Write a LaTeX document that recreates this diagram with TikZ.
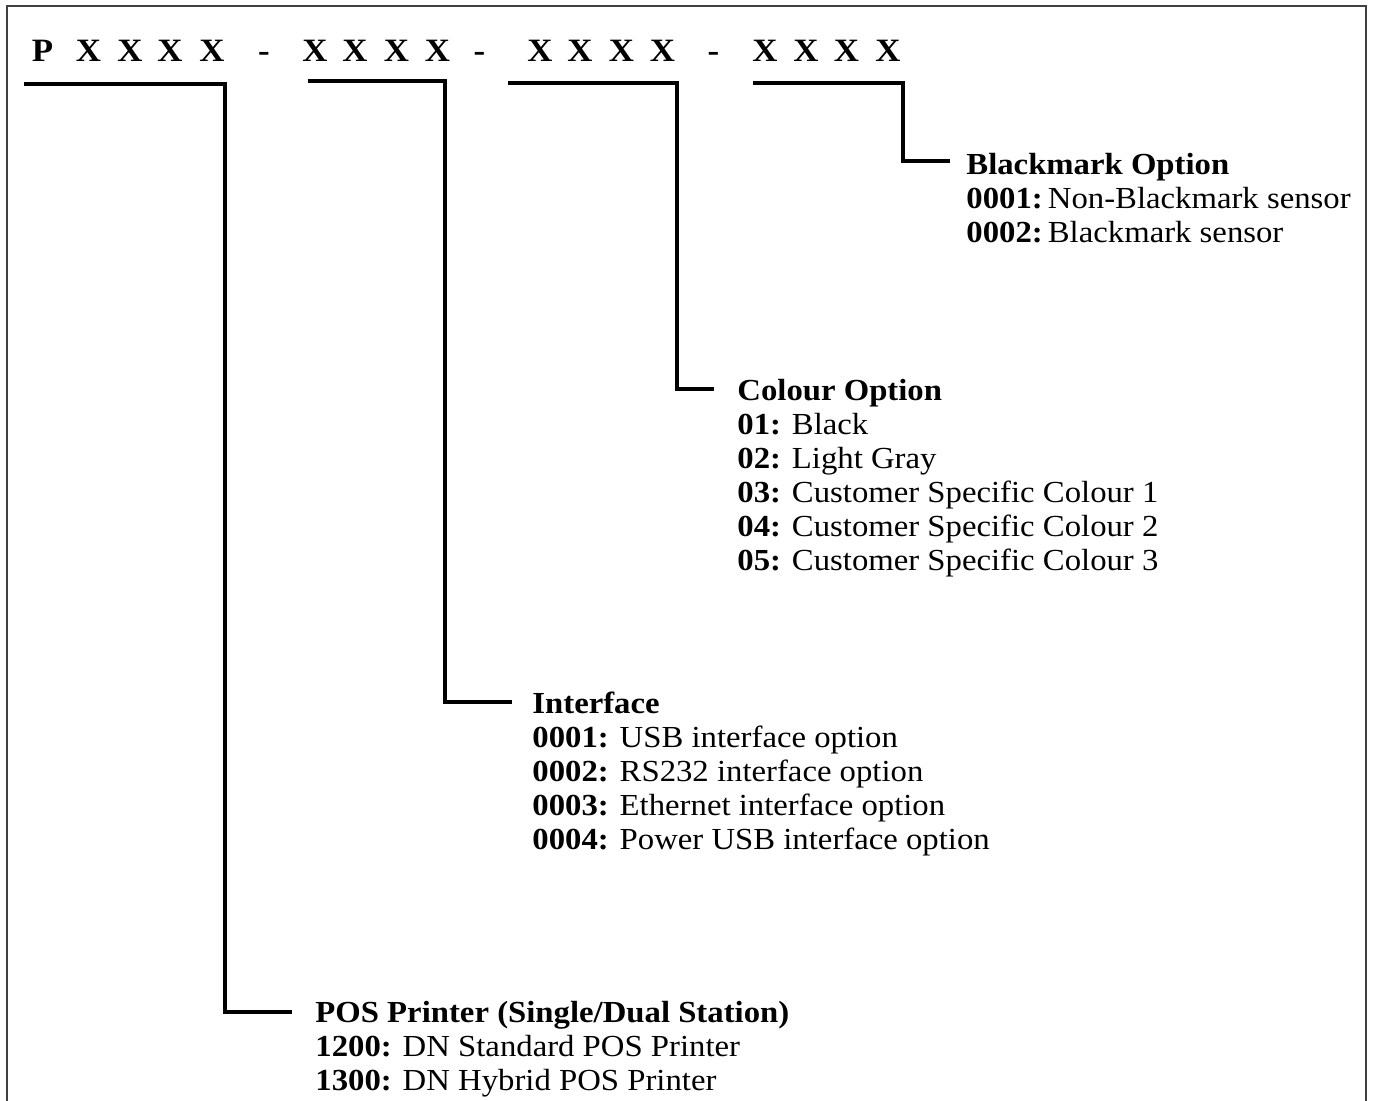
\documentclass[tikz,border=0pt]{standalone}
\usepackage{fontspec}
\setmainfont{Liberation Serif}[FakeStretch=1.07]
\begin{document}
\begin{tikzpicture}[x=0.5pt,y=-0.5pt,
  item/.style={anchor=base west,inner sep=0pt,font=\fontsize{15.3pt}{17pt}\selectfont},
  head/.style={item,font=\fontsize{15.3pt}{17pt}\selectfont\bfseries},
  titlechar/.style={anchor=base,inner sep=0pt,font=\fontsize{16.3pt}{18pt}\selectfont\bfseries},
  bracket/.style={line width=1.7pt,black,line join=miter},
  frame/.style={line width=1.2pt,black!75}]
\useasboundingbox (0,0) rectangle (1374,1101);
% frame (open at the bottom)
\draw[frame] (7,1110) -- (7,6) -- (1366,6) -- (1366,1110);
% title code
\foreach \cx/\ch [count=\i] in {42.5/P,88.5/X,130/X,170/X,212/X,264/-,315/X,355/X,396.5/X,437.5/X,479.5/-,540/X,580/X,621.5/X,662.5/X,713.5/-,765/X,806/X,846.5/X,888/X}
  \node[titlechar] (t\i) at (\cx,62) {\ch};
% bracket coordinates
\coordinate (a1) at (24,84);  \coordinate (b1) at (225,84);  \coordinate (c1) at (225,1012); \coordinate (d1) at (292,1012);
\coordinate (a2) at (308,81); \coordinate (b2) at (445,81);  \coordinate (c2) at (445,702);  \coordinate (d2) at (512,702);
\coordinate (a3) at (508,83); \coordinate (b3) at (677,83);  \coordinate (c3) at (677,389);  \coordinate (d3) at (714,389);
\coordinate (a4) at (753,83); \coordinate (b4) at (903,83);  \coordinate (c4) at (903,161);  \coordinate (d4) at (950,161);
\draw[bracket] (a1) -- (b1) -- (c1) -- (d1);
\draw[bracket] (a2) -- (b2) -- (c2) -- (d2);
\draw[bracket] (a3) -- (b3) -- (c3) -- (d3);
\draw[bracket] (a4) -- (b4) -- (c4) -- (d4);
% Blackmark option
\node[head] (bmh) at (966,175) {Blackmark Option};
\node[item] (bm1) at (966,209) {\textbf{0001:}\,Non-Blackmark sensor};
\node[item] (bm2) at (966,243) {\textbf{0002:}\,Blackmark sensor};
% Colour option
\node[head] (coh) at (737,400) {Colour Option};
\node[item] (co1) at (737,434) {\textbf{01:} Black};
\node[item] (co2) at (737,468) {\textbf{02:} Light Gray};
\node[item] (co3) at (737,502) {\textbf{03:} Customer Specific Colour 1};
\node[item] (co4) at (737,536) {\textbf{04:} Customer Specific Colour 2};
\node[item] (co5) at (737,570) {\textbf{05:} Customer Specific Colour 3};
% Interface
\node[head] (ifh) at (532,713) {Interface};
\node[item] (if1) at (532,747) {\textbf{0001:} USB interface option};
\node[item] (if2) at (532,781) {\textbf{0002:} RS232 interface option};
\node[item] (if3) at (532,815) {\textbf{0003:} Ethernet interface option};
\node[item] (if4) at (532,849) {\textbf{0004:} Power USB interface option};
% POS printer
\node[head] (poh) at (315,1022) {POS Printer (Single/Dual Station)};
\node[item] (po1) at (315,1056) {\textbf{1200:} DN Standard POS Printer};
\node[item] (po2) at (315,1090) {\textbf{1300:} DN Hybrid POS Printer};
\end{tikzpicture}
\end{document}
